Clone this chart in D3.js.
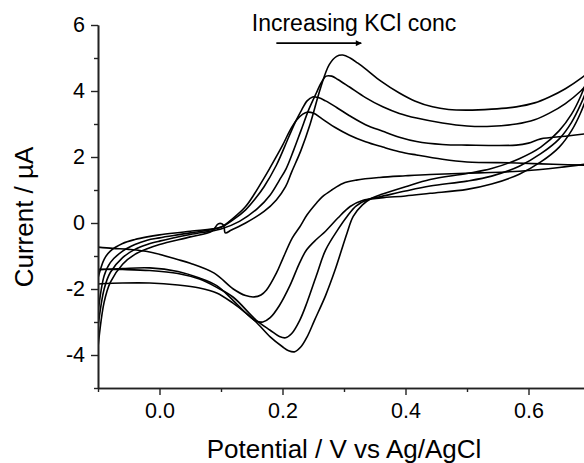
<!DOCTYPE html>
<html>
<head>
<meta charset="utf-8">
<script src="https://cdn.jsdelivr.net/npm/d3@7"></script>
<style>
  body { margin: 0; background: #fff; }
  svg { display: block; }
  text { font-family: "Liberation Sans", Arial, sans-serif; fill: #000; }
</style>
</head>
<body>
<div id="chart"></div>
<script>
// ---- data: four cyclic voltammograms, [potential V, current uA] ----
// forward sweeps (-0.1 -> 0.7 V)
const fwd1 = [[-0.1,-3.76],[-0.09,-2.4],[-0.08,-1.8],[-0.06,-1.25],[-0.04,-0.95],[-0.02,-0.78],[0,-0.65],[0.05,-0.42],[0.085,-0.25],[0.096,-0.02],[0.104,-0.06],[0.107,-0.3],[0.117,-0.21],[0.14,0.0],[0.17,0.35],[0.19,0.7],[0.205,1.1],[0.215,1.55],[0.23,2.2],[0.245,3.0],[0.262,4.1],[0.276,4.8],[0.288,5.05],[0.298,5.09],[0.31,5.0],[0.322,4.85],[0.337,4.64],[0.36,4.3],[0.39,3.94],[0.415,3.7],[0.444,3.52],[0.47,3.44],[0.5,3.42],[0.54,3.45],[0.58,3.52],[0.61,3.64],[0.634,3.82],[0.66,4.07],[0.688,4.42],[0.7,4.6]];
const fwd2 = [[-0.1,-3.15],[-0.09,-2.0],[-0.08,-1.5],[-0.06,-1.05],[-0.04,-0.8],[-0.02,-0.65],[0,-0.55],[0.05,-0.35],[0.1,-0.18],[0.13,0.05],[0.16,0.45],[0.18,0.85],[0.195,1.3],[0.206,1.65],[0.218,2.2],[0.23,2.8],[0.243,3.45],[0.255,3.94],[0.263,4.25],[0.271,4.45],[0.28,4.45],[0.29,4.35],[0.309,4.12],[0.335,3.8],[0.363,3.52],[0.39,3.32],[0.418,3.18],[0.46,3.03],[0.5,2.94],[0.54,2.93],[0.58,3.0],[0.61,3.13],[0.634,3.33],[0.66,3.62],[0.685,4.0],[0.7,4.3]];
const fwd3 = [[-0.1,-2.73],[-0.09,-1.6],[-0.08,-1.2],[-0.06,-0.85],[-0.04,-0.65],[-0.02,-0.52],[0,-0.45],[0.05,-0.3],[0.1,-0.13],[0.12,0.1],[0.14,0.4],[0.155,0.72],[0.17,1.1],[0.19,1.75],[0.21,2.6],[0.222,3.1],[0.231,3.42],[0.24,3.7],[0.249,3.82],[0.258,3.8],[0.27,3.7],[0.288,3.5],[0.309,3.25],[0.335,2.98],[0.363,2.78],[0.39,2.6],[0.418,2.47],[0.46,2.38],[0.5,2.36],[0.58,2.36],[0.6,2.42],[0.62,2.55],[0.66,2.63],[0.7,2.72]];
const fwd4 = [[-0.1,-1.67],[-0.09,-1.1],[-0.08,-0.85],[-0.06,-0.62],[-0.04,-0.5],[-0.02,-0.42],[0,-0.36],[0.05,-0.25],[0.1,-0.12],[0.12,0.15],[0.14,0.5],[0.155,0.9],[0.168,1.3],[0.179,1.65],[0.2,2.35],[0.212,2.8],[0.223,3.12],[0.233,3.3],[0.241,3.36],[0.25,3.33],[0.265,3.15],[0.285,2.9],[0.309,2.66],[0.335,2.46],[0.363,2.3],[0.39,2.16],[0.418,2.06],[0.46,1.93],[0.5,1.85],[0.58,1.82],[0.64,1.78],[0.7,1.75]];

// reverse sweeps (0.7 -> -0.1 V)
const rev1 = [[0.7,4.6],[0.685,3.85],[0.67,3.3],[0.65,2.8],[0.62,2.3],[0.585,1.95],[0.54,1.65],[0.5,1.5],[0.44,1.32],[0.4,1.1],[0.36,0.86],[0.345,0.75],[0.33,0.55],[0.315,0.2],[0.305,-0.3],[0.296,-0.82],[0.285,-1.45],[0.27,-2.2],[0.252,-2.95],[0.24,-3.45],[0.23,-3.75],[0.22,-3.9],[0.21,-3.87],[0.2,-3.75],[0.18,-3.45],[0.157,-3.0],[0.14,-2.72],[0.119,-2.42],[0.093,-2.12],[0.065,-1.97],[0.03,-1.88],[-0.016,-1.82],[-0.06,-1.82],[-0.1,-1.85]];
const rev2 = [[0.7,4.3],[0.685,3.6],[0.67,3.05],[0.65,2.55],[0.62,2.1],[0.585,1.72],[0.54,1.42],[0.5,1.27],[0.44,1.12],[0.4,0.97],[0.36,0.8],[0.34,0.72],[0.32,0.52],[0.305,0.2],[0.29,-0.2],[0.27,-0.82],[0.255,-1.6],[0.24,-2.4],[0.228,-2.95],[0.215,-3.35],[0.205,-3.48],[0.195,-3.44],[0.18,-3.25],[0.157,-2.94],[0.12,-2.25],[0.093,-1.95],[0.065,-1.7],[0.03,-1.53],[-0.016,-1.44],[-0.06,-1.41],[-0.1,-1.4]];
const rev3 = [[0.7,4.1],[0.685,3.35],[0.67,2.8],[0.65,2.3],[0.62,1.85],[0.585,1.48],[0.54,1.18],[0.5,1.02],[0.44,0.9],[0.4,0.82],[0.36,0.76],[0.33,0.68],[0.31,0.5],[0.29,0.15],[0.27,-0.25],[0.255,-0.5],[0.239,-0.82],[0.228,-1.2],[0.212,-1.9],[0.195,-2.5],[0.18,-2.87],[0.168,-3.0],[0.157,-2.97],[0.14,-2.72],[0.12,-2.35],[0.093,-1.9],[0.065,-1.67],[0.03,-1.47],[-0.016,-1.36],[-0.06,-1.38],[-0.1,-1.42]];
const rev4 = [[0.7,1.8],[0.65,1.68],[0.585,1.57],[0.52,1.52],[0.44,1.47],[0.4,1.43],[0.358,1.38],[0.32,1.3],[0.298,1.2],[0.28,1.0],[0.265,0.8],[0.255,0.6],[0.24,0.25],[0.228,-0.12],[0.216,-0.45],[0.2,-1.1],[0.19,-1.52],[0.174,-2.03],[0.165,-2.18],[0.154,-2.24],[0.14,-2.2],[0.12,-2.0],[0.089,-1.52],[0.05,-1.22],[0.028,-1.1],[-0.016,-0.88],[-0.05,-0.8],[-0.076,-0.77],[-0.1,-0.73]];

const sweeps = [fwd1, fwd2, fwd3, fwd4, rev1, rev2, rev3, rev4];

// axis ticks
const xMajor = [0.0, 0.2, 0.4, 0.6];
const xMinor = [-0.1, 0.1, 0.3, 0.5, 0.7];
const yMajor = [-4, -2, 0, 2, 4, 6];
const yMinor = [-5, -3, -1, 1, 3, 5];

const xTitle = "Potential / V vs Ag/AgCl";
const yTitle = "Current / \u00B5A";
const noteText = "Increasing KCl conc";

// ---- layout ----
const W = 584, H = 463;
const margin = { top: 25, left: 98 };
const plotW = 492, plotH = 363;

const svg = d3.select("#chart").append("svg")
    .attr("width", W)
    .attr("height", H);

const g = svg.append("g")
    .attr("transform", `translate(${margin.left},${margin.top})`);

const x = d3.scaleLinear().domain([-0.1, 0.7]).range([0, plotW]);
const y = d3.scaleLinear().domain([-5, 6]).range([plotH, 0]);

const defs = svg.append("defs");
defs.append("clipPath")
    .attr("id", "plot-clip")
    .append("rect")
    .attr("width", plotW)
    .attr("height", plotH);

defs.append("marker")
    .attr("id", "arrowhead")
    .attr("viewBox", "0 0 10 10")
    .attr("refX", 9)
    .attr("refY", 5)
    .attr("markerWidth", 8)
    .attr("markerHeight", 6)
    .attr("markerUnits", "userSpaceOnUse")
    .attr("orient", "auto")
    .append("path")
    .attr("d", "M0,0 L10,5 L0,10 Z")
    .attr("fill", "#000");

// curves
const line = d3.line()
    .x(d => x(d[0]))
    .y(d => y(d[1]))
    .curve(d3.curveCatmullRom.alpha(0.5));

g.append("g")
    .attr("clip-path", "url(#plot-clip)")
    .selectAll("path")
    .data(sweeps)
    .join("path")
    .attr("d", line)
    .attr("fill", "none")
    .attr("stroke", "#000")
    .attr("stroke-width", 1.6)
    .attr("stroke-linejoin", "round");

// axes
function styleAxis(sel) {
    sel.selectAll("path.domain").attr("stroke", "#222").attr("stroke-width", 1.6);
    sel.selectAll(".tick line").attr("stroke", "#222").attr("stroke-width", 1.4);
    sel.selectAll(".tick text")
        .style("font-family", '"Liberation Sans", Arial, sans-serif')
        .style("font-size", "21.5px")
        .attr("fill", "#000");
}

g.append("g")
    .attr("transform", `translate(0,${plotH})`)
    .call(d3.axisBottom(x).tickValues(xMinor).tickSize(4).tickSizeOuter(0).tickFormat(""))
    .call(styleAxis);
g.append("g")
    .attr("transform", `translate(0,${plotH})`)
    .call(d3.axisBottom(x).tickValues(xMajor).tickSize(7).tickSizeOuter(0).tickPadding(8)
        .tickFormat(d => d.toFixed(1)))
    .call(styleAxis);

g.append("g")
    .call(d3.axisLeft(y).tickValues(yMinor).tickSize(4).tickSizeOuter(0).tickFormat(""))
    .call(styleAxis);
g.append("g")
    .call(d3.axisLeft(y).tickValues(yMajor).tickSize(7).tickSizeOuter(0).tickPadding(6)
        .tickFormat(d => String(d)))
    .call(styleAxis);

// axis titles
svg.append("text")
    .attr("x", margin.left + plotW / 2)
    .attr("y", 458)
    .attr("text-anchor", "middle")
    .style("font-size", "26px")
    .text(xTitle);

svg.append("text")
    .attr("transform", `translate(33,${margin.top + 192}) rotate(-90)`)
    .attr("text-anchor", "middle")
    .style("font-size", "26px")
    .text(yTitle);

// annotation
g.append("text")
    .attr("x", x(0.15))
    .attr("y", y(5.82))
    .style("font-size", "23px")
    .text(noteText);

g.append("line")
    .attr("x1", x(0.19))
    .attr("x2", x(0.328))
    .attr("y1", y(5.45))
    .attr("y2", y(5.45))
    .attr("stroke", "#000")
    .attr("stroke-width", 1.6)
    .attr("marker-end", "url(#arrowhead)");
</script>
</body>
</html>
